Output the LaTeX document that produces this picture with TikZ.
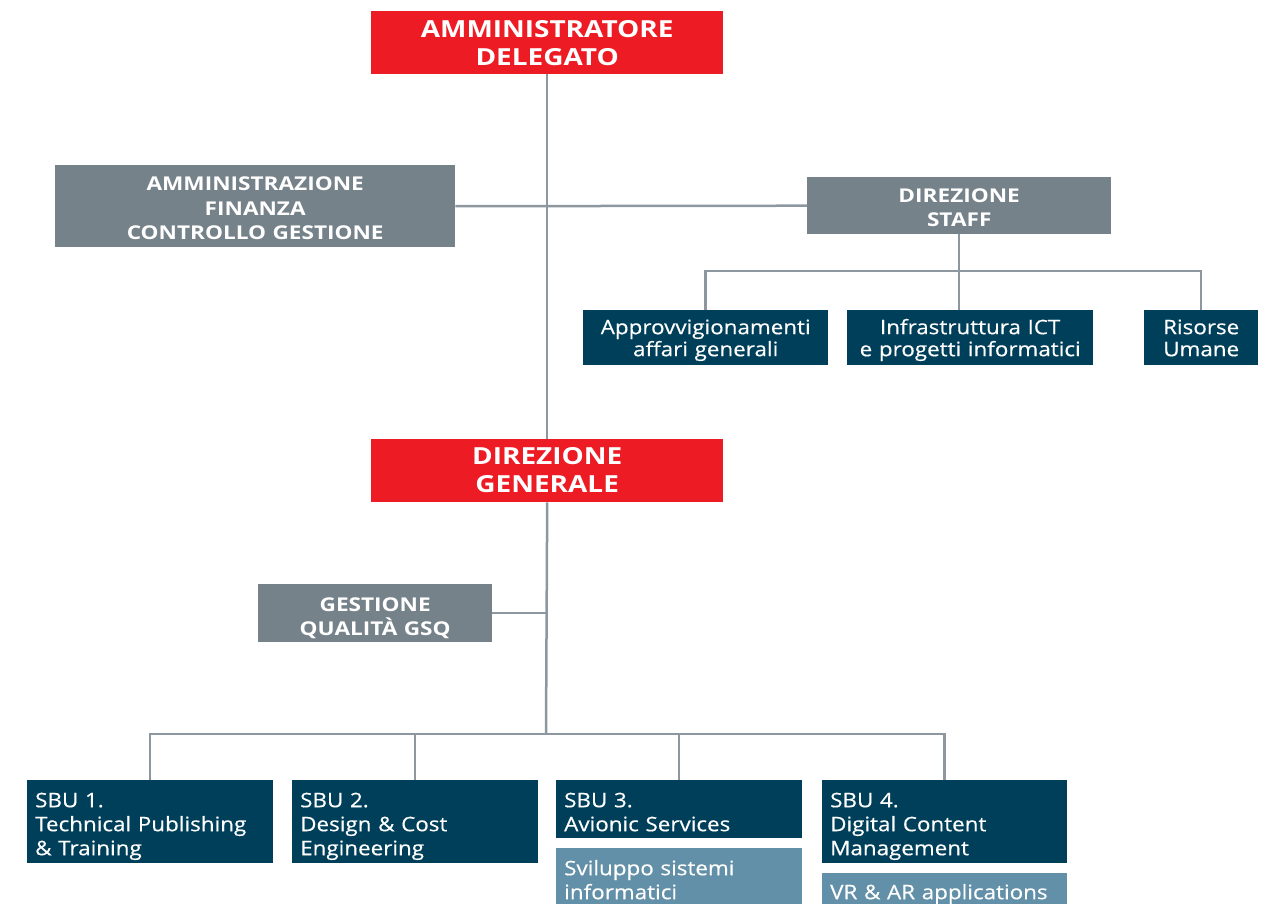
\documentclass[tikz,border=0pt]{standalone}
\usepackage{fontspec}
\setmainfont{Open Sans}
\newfontfamily\capfont{Open Sans}[FakeStretch=1.19]
\newfontfamily\regfont{Open Sans}[FakeStretch=1.12,FakeBold=0.4]

\definecolor{adred}{HTML}{ED1C24}
\definecolor{staffgray}{HTML}{76828A}
\definecolor{unitblue}{HTML}{003F5A}
\definecolor{subblue}{HTML}{6290A8}
\definecolor{linegray}{HTML}{8C979F}

\tikzset{
  box/.style={anchor=north west,inner sep=0pt,text=white},
  % width, first baseline from top, height
  sz/.style n args={3}{text width=#1pt,text height=#2pt,text depth=#3pt-#2pt},
  redbox/.style={box,fill=adred,align=center,
    font=\capfont\bfseries\fontsize{23.5}{27.5}\selectfont},
  graybox/.style={box,fill=staffgray,align=center,
    font=\capfont\bfseries\fontsize{19}{24.5}\selectfont},
  unitbox/.style={box,fill=unitblue,align=center,
    font=\regfont\fontsize{20}{22}\selectfont},
  sbubox/.style={box,fill=unitblue,align=left,inner xsep=8pt,
    font=\regfont\fontsize{20}{24}\selectfont},
  subbox/.style={sbubox,fill=subblue},
  link/.style={draw=linegray,line width=2.5pt}
}

\begin{document}
\begin{tikzpicture}[x=1pt,y=-1pt]

\useasboundingbox (0,0) rectangle (1269,903);
\clip (0,0) rectangle (1269,903);

% vertice
\node[redbox,sz={352}{26.5}{63}] (ad) at (371,11) {AMMINISTRATORE\\DELEGATO};
\node[graybox,sz={400}{25.5}{82}] (afc) at (55,165) {AMMINISTRAZIONE\\FINANZA\\CONTROLLO GESTIONE};
\node[graybox,sz={304}{25}{57}] (ds) at (807,177) {DIREZIONE\\STAFF};

% staff
\node[unitbox,sz={245}{24}{55}] (app) at (583,310) {Approvvigionamenti\\affari generali};
\node[unitbox,sz={246}{24}{55}] (infra) at (847,310) {Infrastruttura ICT\\e progetti informatici};
\node[unitbox,sz={114}{24}{55}] (ris) at (1144,310) {Risorse\\Umane};

\node[redbox,sz={352}{25.5}{63}] (dg) at (371,439) {DIREZIONE\\GENERALE};
\node[graybox,sz={234}{27}{58}] (gsq) at (258,584) {GESTIONE\\QUALITÀ GSQ};

% SBU
\node[sbubox,sz={230}{27}{83}] (sbu1) at (27,780) {SBU 1.\\Technical Publishing\\\& Training};
\node[sbubox,sz={230}{27}{83}] (sbu2) at (292,780) {SBU 2.\\Design \& Cost\\Engineering};
\node[sbubox,sz={230}{27}{58}] (sbu3) at (556,780) {SBU 3.\\Avionic Services};
\node[subbox,sz={230}{27}{72}] (svil) at (556,848) {Sviluppo sistemi\\informatici};
\node[sbubox,sz={229}{27}{83}] (sbu4) at (822,780) {SBU 4.\\Digital Content\\Management};
\node[subbox,sz={229}{26}{42}] (vr) at (822,873) {VR \& AR applications};

\coordinate (staffbus) at (959,271);
\coordinate (sbubus) at (546,734);

\draw[link] (ad.south) -- (dg.north);
\draw[link] (afc.east) -- (ds.west);
\draw[link] (ds.south) -- (ds.south |- infra.north);
\draw[link] (app.north) |- (staffbus) -| (ris.north);
\draw[link] (gsq.east) -- (gsq.east -| dg.south);
\draw[link] (dg.south) -- (sbubus);
\draw[link] (sbu1.north) |- (sbubus) -| (sbu4.north);
\foreach \n in {sbu2,sbu3}
 {\draw[link] (\n.north) -- (\n.north |- sbubus);}

\end{tikzpicture}
\end{document}
